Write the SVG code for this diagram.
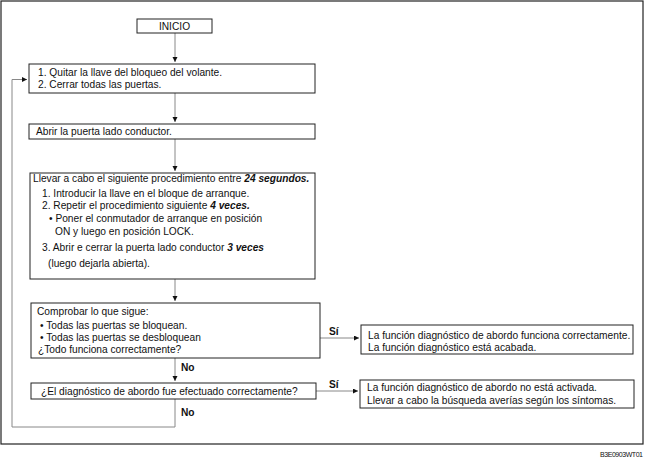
<svg xmlns="http://www.w3.org/2000/svg" width="645" height="464" viewBox="0 0 645 464">
  <defs>
    <marker id="ah" markerUnits="userSpaceOnUse" markerWidth="6" markerHeight="6" refX="5" refY="2.5" orient="auto">
      <path d="M0,0 L5,2.5 L0,5 z" fill="#111"/>
    </marker>
    <style>
      text { font-family: "Liberation Sans", Arial, sans-serif; font-size: 10.2px; fill: #111; }
      .box { fill: #fff; stroke: #222; stroke-width: 1; }
      .frame { fill: none; stroke: #222; stroke-width: 1.2; }
      .conn { fill: none; stroke: #888; stroke-width: 1; }
      .arr { marker-end: url(#ah); }
      .b { font-weight: bold; }
      .bi { font-weight: bold; font-style: italic; }
      .code { font-size: 7px; letter-spacing: -0.45px; }
    </style>
  </defs>

  <rect class="frame" x="1" y="1" width="642" height="443"/>
  <text class="code" x="600" y="457">B3E0903WT01</text>

  <g id="connectors">
    <line class="conn arr" x1="175" y1="33" x2="175" y2="62"/>
    <line class="conn arr" x1="175" y1="93" x2="175" y2="122"/>
    <line class="conn arr" x1="175" y1="139" x2="175" y2="171"/>
    <line class="conn arr" x1="175" y1="279" x2="175" y2="301"/>
    <line class="conn arr" x1="175" y1="358" x2="175" y2="381"/>
    <polyline class="conn arr" points="175,399 175,427 12,427 12,79.5 27,79.5"/>
    <line class="conn arr" x1="320" y1="338" x2="359" y2="338"/>
    <line class="conn arr" x1="316" y1="391" x2="358" y2="391"/>
    <text class="b" x="181" y="371">No</text>
    <text class="b" x="181" y="416">No</text>
    <text class="b" x="329" y="335">Sí</text>
    <text class="b" x="329" y="388">Sí</text>
  </g>

  <g id="inicio">
    <rect class="box" x="137" y="19" width="75" height="14"/>
    <text x="174.5" y="30" text-anchor="middle">INICIO</text>
  </g>

  <g id="step1">
    <rect class="box" x="29" y="64" width="286" height="29"/>
    <text x="38" y="76">1. Quitar la llave del bloqueo del volante.</text>
    <text x="38" y="88">2. Cerrar todas las puertas.</text>
  </g>

  <g id="step2">
    <rect class="box" x="29" y="124" width="286" height="15"/>
    <text x="36" y="135">Abrir la puerta lado conductor.</text>
  </g>

  <g id="step3">
    <rect class="box" x="30" y="173" width="285" height="106"/>
    <text x="33" y="182">Llevar a cabo el siguiente procedimiento entre <tspan class="bi">24 segundos.</tspan></text>
    <text x="42" y="197">1. Introducir la llave en el bloque de arranque.</text>
    <text x="42" y="209">2. Repetir el procedimiento siguiente <tspan class="bi">4 veces.</tspan></text>
    <text x="49" y="222">• Poner el conmutador de arranque en posición</text>
    <text x="55" y="235">ON y luego en posición LOCK.</text>
    <text x="42" y="251">3. Abrir e cerrar la puerta lado conductor <tspan class="bi">3 veces</tspan></text>
    <text x="48" y="267">(luego dejarla abierta).</text>
  </g>

  <g id="check">
    <rect class="box" x="31" y="303" width="289" height="55"/>
    <text x="37" y="315">Comprobar lo que sigue:</text>
    <text x="40" y="329">• Todas las puertas se bloquean.</text>
    <text x="40" y="341">• Todas las puertas se desbloquean</text>
    <text x="38" y="353">¿Todo funciona correctamente?</text>
  </g>

  <g id="diag">
    <rect class="box" x="31" y="383" width="285" height="16"/>
    <text x="41" y="395">¿El diagnóstico de abordo fue efectuado correctamente?</text>
  </g>

  <g id="result-ok">
    <rect class="box" x="361" y="325" width="272" height="29"/>
    <text x="368" y="339">La función diagnóstico de abordo funciona correctamente.</text>
    <text x="368" y="351">La función diagnóstico está acabada.</text>
  </g>

  <g id="result-inactive">
    <rect class="box" x="360" y="380" width="274" height="28"/>
    <text x="367" y="391">La función diagnóstico de abordo no está activada.</text>
    <text x="367" y="404">Llevar a cabo la búsqueda averías según los síntomas.</text>
  </g>
</svg>
